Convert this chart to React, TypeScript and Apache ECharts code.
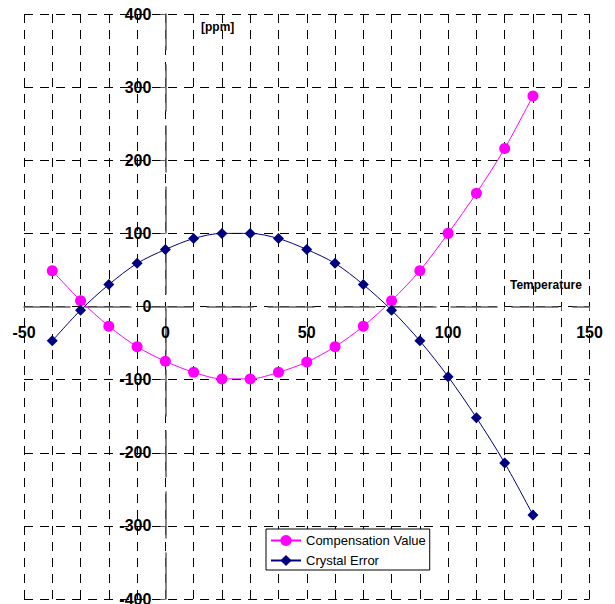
import React, { useEffect, useRef } from "react";
import * as echarts from "echarts";

const temperatures = [-40, -30, -20, -10, 0, 10, 20, 30, 40, 50, 60, 70, 80, 90, 100, 110, 120, 130];
const compensationValue = [49, 8, -27, -55, -75, -90, -99, -99, -90, -76, -55, -27, 8, 49, 100, 155, 216, 288];
const crystalError = [-47, -5, 30, 59, 78, 93, 100, 100, 93, 78, 59, 30, -5, -47, -96, -152, -214, -285];
const xTickLabels = [-50, 0, 50, 100, 150];
const yTickLabels = [-400, -300, -200, -100, 0, 100, 200, 300, 400];

const FONT = "'Liberation Sans', Arial, Helvetica, sans-serif";

const GRID_LEFT = 24;
const GRID_RIGHT = 25.5;
const GRID_TOP = 14;
const GRID_BOTTOM = 5;
const W = 615;
const H = 604;

export default function App() {
  const ref = useRef<HTMLDivElement>(null);
  useEffect(() => {
    if (!ref.current) return;
    const chart = echarts.init(ref.current, undefined, { renderer: "svg" });
    const plotW = W - GRID_LEFT - GRID_RIGHT;
    const plotH = H - GRID_TOP - GRID_BOTTOM;
    const zeroFromLeft = (plotW * (0 - -50)) / (150 - -50);
    const zeroFromBottom = (plotH * (0 - -400)) / (400 - -400);
    const gridDash = { color: "#000", width: 1, type: [9, 7] as any };
    const axisLineStyle = { color: "#606060", width: 1.5, type: [46, 15] as any };
    chart.setOption({
      animation: false,
      backgroundColor: "#fff",
      grid: {
        left: GRID_LEFT,
        right: GRID_RIGHT,
        top: GRID_TOP,
        bottom: GRID_BOTTOM,
        containLabel: false,
        outerBoundsMode: "none",
      },
      xAxis: {
        type: "value",
        min: -50,
        max: 150,
        interval: 10,
        position: "bottom",
        offset: -zeroFromBottom,
        axisLine: { show: true, onZero: false, lineStyle: axisLineStyle },
        axisTick: { show: true, length: 4, lineStyle: { color: "#606060" } },
        axisLabel: {
          margin: 18,
          fontFamily: FONT,
          fontSize: 16,
          fontWeight: "bold",
          color: "#000",
          showMinLabel: true,
          showMaxLabel: true,
          formatter: (v: number) => (xTickLabels.includes(v) ? String(v) : ""),
        },
        splitLine: { show: true, lineStyle: gridDash },
      },
      yAxis: {
        type: "value",
        min: -400,
        max: 400,
        interval: 100,
        position: "left",
        offset: -zeroFromLeft,
        axisLine: { show: true, onZero: false, lineStyle: axisLineStyle },
        axisTick: { show: true, length: 5, lineStyle: { color: "#606060" } },
        axisLabel: {
          margin: 14,
          fontFamily: FONT,
          fontSize: 16,
          fontWeight: "bold",
          color: "#000",
          showMinLabel: true,
          showMaxLabel: true,
          formatter: (v: number) => (yTickLabels.includes(v) ? String(v) : ""),
        },
        splitLine: { show: true, lineStyle: gridDash },
      },
      legend: {
        orient: "vertical",
        left: 266,
        top: 529,
        width: 165,
        backgroundColor: "#fff",
        borderColor: "#000",
        borderWidth: 1,
        padding: [5, 4, 3, 4],
        itemGap: 7,
        itemWidth: 30,
        itemHeight: 14,
        textStyle: { fontFamily: FONT, fontSize: 13, color: "#000" },
        data: ["Compensation Value", "Crystal Error"],
      },
      graphic: [
        {
          type: "text",
          left: 201,
          top: 21,
          style: { text: "[ppm]", fontFamily: FONT, fontSize: 12, fontWeight: "bold", fill: "#000" },
        },
        {
          type: "text",
          left: 510,
          top: 279,
          style: { text: "Temperature", fontFamily: FONT, fontSize: 12, fontWeight: "bold", fill: "#000" },
        },
      ],
      series: [
        {
          name: "Compensation Value",
          type: "line",
          data: temperatures.map((t, i) => [t, compensationValue[i]]),
          smooth: 0.3,
          symbol: "circle",
          symbolSize: 11,
          color: "#ff00ff",
          lineStyle: { color: "#ff00ff", width: 1 },
          itemStyle: { color: "#ff00ff" },
        },
        {
          name: "Crystal Error",
          type: "line",
          data: temperatures.map((t, i) => [t, crystalError[i]]),
          smooth: 0.3,
          symbol: "diamond",
          symbolSize: 11,
          color: "#000080",
          lineStyle: { color: "#000080", width: 1 },
          itemStyle: { color: "#000080" },
        },
      ],
    });
    return () => chart.dispose();
  }, []);
  return (
    <div
      ref={ref}
      style={{ position: "fixed", left: 0, top: 0, width: W, height: H, background: "#fff" }}
    />
  );
}
